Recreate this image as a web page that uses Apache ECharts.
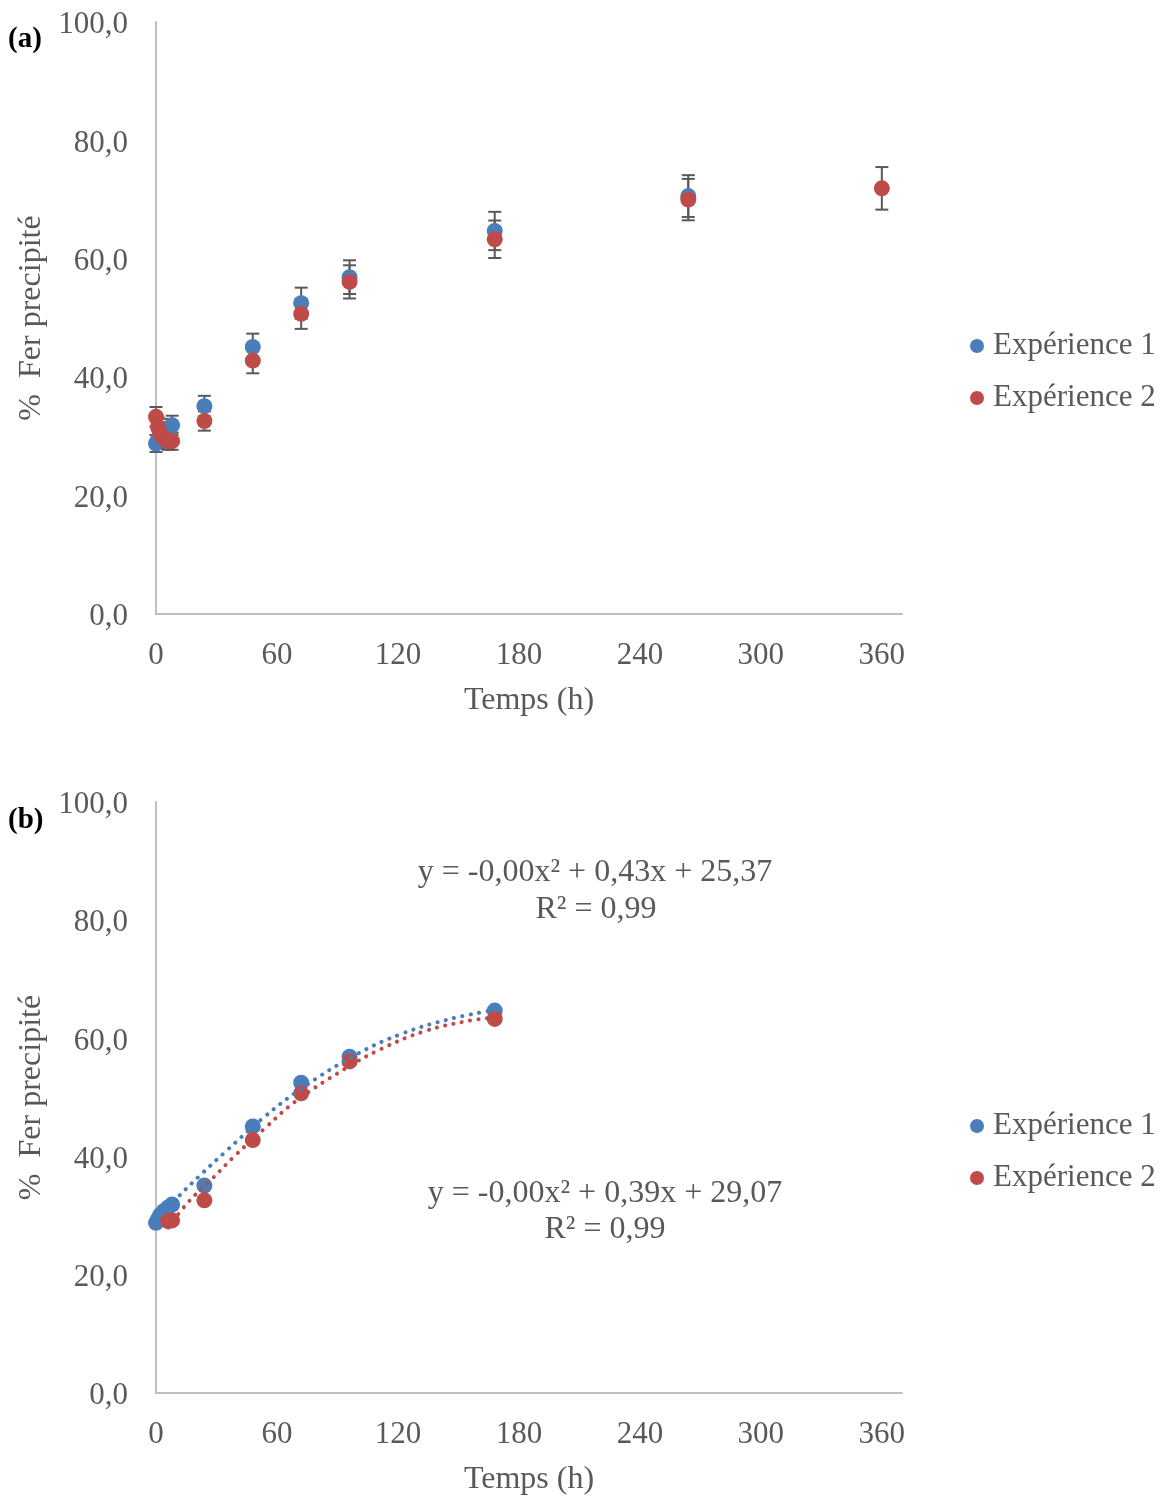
<!DOCTYPE html>
<html>
<head>
<meta charset="utf-8">
<script src="https://cdn.jsdelivr.net/npm/echarts@6/dist/echarts.min.js"></script>
<style>
html,body{margin:0;padding:0;background:#fff;}
#chart{width:1165px;height:1497px;}
</style>
</head>
<body>
<div id="chart"></div>
<script>
// ---- Data ----
const timesA = [0, 1, 2, 4, 6, 8, 24, 48, 72, 96, 168, 264, 360];
const exp1A  = [28.8, 29.4, 30.1, 30.8, 31.4, 31.9, 35.1, 45.1, 52.5, 56.9, 64.7, 70.6, null];
const exp2A  = [33.3, 31.6, 30.5, 29.6, 29.2, 29.2, 32.6, 42.8, 50.7, 56.1, 63.3, 70.0, 71.9];

const timesB1 = [0, 1, 2, 4, 6, 8, 24, 48, 72, 96, 168];
const exp1B   = [28.8, 29.4, 30.1, 30.8, 31.4, 31.9, 35.1, 45.1, 52.5, 56.9, 64.7];
const timesB2 = [6, 8, 24, 48, 72, 96, 168];
const exp2B   = [29.1, 29.2, 32.6, 42.8, 50.7, 56.1, 63.3];

// trend lines
const trend1X = [0, 11, 23, 35, 53, 72, 100, 122, 146, 168];
const trend1Y = [29.3, 33.2, 37.2, 41.0, 46.5, 51.5, 57.4, 60.8, 63.3, 64.8];
const trend2X = [6, 16, 28, 39, 54, 69, 93, 111, 133, 157, 168];
const trend2Y = [28.0, 32.3, 36.3, 40.1, 44.8, 49.3, 54.7, 58.1, 61.2, 63.1, 63.5];

const xTicks = [0, 60, 120, 180, 240, 300, 360];
const ERR_PCT = 5; // percentage error bars

const eq1 = ['y = -0,00x² + 0,43x + 25,37', 'R² = 0,99'];
const eq2 = ['y = -0,00x² + 0,39x + 29,07', 'R² = 0,99'];
const seriesNames = ['Expérience 1', 'Expérience 2'];

// ---- Styling ----
const FONT = 'Liberation Serif, Times New Roman, serif';
const GREY = '#595959';
const BLUE = '#4a7ebb';
const RED = '#be4b48';
const FS = 31;   // tick labels, legend
const FSN = 32;  // axis names, equations

function pairs(xs, ys) {
  const out = [];
  for (let i = 0; i < xs.length; i++) if (ys[i] != null) out.push([xs[i], ys[i]]);
  return out;
}

function errRender(params, api) {
  const x = api.value(0), y = api.value(1);
  const e = y * ERR_PCT / 100;
  const top = api.coord([x, y + e]);
  const bot = api.coord([x, y - e]);
  const hw = 6.5;
  const st = {stroke: GREY, lineWidth: 2};
  return {
    type: 'group',
    children: [
      {type: 'line', shape: {x1: top[0], y1: top[1], x2: bot[0], y2: bot[1]}, style: st},
      {type: 'line', shape: {x1: top[0] - hw, y1: top[1], x2: top[0] + hw, y2: top[1]}, style: st},
      {type: 'line', shape: {x1: bot[0] - hw, y1: bot[1], x2: bot[0] + hw, y2: bot[1]}, style: st}
    ]
  };
}

const gridTops = [22, 802];
const grids = gridTops.map(t => ({left: 156, top: t, width: 746, height: 592, containLabel: false}));

const txt = {color: GREY, fontSize: FS, fontFamily: FONT};
const txtN = {color: GREY, fontSize: FSN, fontFamily: FONT};

const xAxes = [0, 1].map(i => ({
  gridIndex: i, type: 'value', min: 0, max: 370, interval: 60,
  axisLine: {show: true, onZero: false, lineStyle: {color: '#bfbfbf', width: 2}},
  axisTick: {show: false}, splitLine: {show: false},
  axisLabel: Object.assign({margin: 26, customValues: xTicks}, txt),
  name: 'Temps (h)', nameLocation: 'middle', nameGap: 71,
  nameTextStyle: txtN
}));

const yAxes = [0, 1].map(i => ({
  gridIndex: i, type: 'value', min: 0, max: 100, interval: 20,
  axisLine: {show: true, onZero: false, lineStyle: {color: '#bfbfbf', width: 2}},
  axisTick: {show: false}, splitLine: {show: false},
  axisLabel: Object.assign({margin: 28,
    formatter: v => '{a|' + v.toFixed(1).replace('.', ',') + '}',
    rich: {a: {color: GREY, fontSize: FS, fontFamily: FONT, padding: [6, 0, 0, 0]}}}, txt),
  name: '%  Fer precipité', nameLocation: 'middle', nameGap: 106, nameRotate: 90,
  nameTextStyle: txtN
}));

const legends = [325, 1105].map(t => ({
  data: seriesNames, orient: 'vertical', left: 965, top: t,
  icon: 'circle', itemWidth: 14, itemHeight: 14, itemGap: 20,
  textStyle: {color: GREY, fontSize: FS, fontFamily: FONT, lineHeight: 32, padding: [0, 0, 0, 4]},
  selectedMode: false
}));

const series = [
  // panel (a) error bars
  {type: 'custom', name: 'err1', xAxisIndex: 0, yAxisIndex: 0, z: 1, renderItem: errRender,
   data: pairs(timesA, exp1A), encode: {x: 0, y: 1}, silent: true},
  {type: 'custom', name: 'err2', xAxisIndex: 0, yAxisIndex: 0, z: 1, renderItem: errRender,
   data: pairs(timesA, exp2A), encode: {x: 0, y: 1}, silent: true},
  // panel (a) points
  {type: 'scatter', name: seriesNames[0], xAxisIndex: 0, yAxisIndex: 0, z: 2,
   symbolSize: 16, itemStyle: {color: BLUE, opacity: 1}, data: pairs(timesA, exp1A)},
  {type: 'scatter', name: seriesNames[1], xAxisIndex: 0, yAxisIndex: 0, z: 2,
   symbolSize: 16, itemStyle: {color: RED, opacity: 1}, data: pairs(timesA, exp2A)},
  // panel (b) points
  {type: 'scatter', name: seriesNames[0], xAxisIndex: 1, yAxisIndex: 1, z: 2,
   symbolSize: 16, itemStyle: {color: BLUE, opacity: 1}, data: pairs(timesB1, exp1B)},
  {type: 'scatter', name: seriesNames[1], xAxisIndex: 1, yAxisIndex: 1, z: 2,
   symbolSize: 16, itemStyle: {color: RED, opacity: 1}, data: pairs(timesB2, exp2B)},
  // panel (b) trend lines
  {type: 'line', name: 'trend1', xAxisIndex: 1, yAxisIndex: 1, z: 3, smooth: 0.4,
   showSymbol: false, silent: true,
   lineStyle: {color: BLUE, width: 4, type: [0.1, 8.4], cap: 'round'},
   data: pairs(trend1X, trend1Y)},
  {type: 'line', name: 'trend2', xAxisIndex: 1, yAxisIndex: 1, z: 3, smooth: 0.4,
   showSymbol: false, silent: true,
   lineStyle: {color: RED, width: 4, type: [0.1, 8.4], cap: 'round'},
   data: pairs(trend2X, trend2Y)}
];

function label(text, x, y, bold) {
  return {type: 'text', x: x, y: y, z: 10,
    style: {text: text, fill: bold ? '#000' : GREY,
      font: (bold ? 'bold 29px ' : FSN + 'px ') + FONT,
      align: bold ? 'left' : 'center', verticalAlign: 'middle'}};
}

const graphics = [
  label('(a)', 8, 40, true),
  label('(b)', 8, 821, true),
  label(eq1[0], 595, 873), label(eq1[1], 596, 910),
  label(eq2[0], 605, 1194), label(eq2[1], 605, 1230)
];

const chart = echarts.init(document.getElementById('chart'), null, {renderer: 'canvas'});
chart.setOption({
  backgroundColor: '#fff',
  animation: false,
  grid: grids, xAxis: xAxes, yAxis: yAxes,
  legend: legends, series: series, graphic: graphics
});
</script>
</body>
</html>
